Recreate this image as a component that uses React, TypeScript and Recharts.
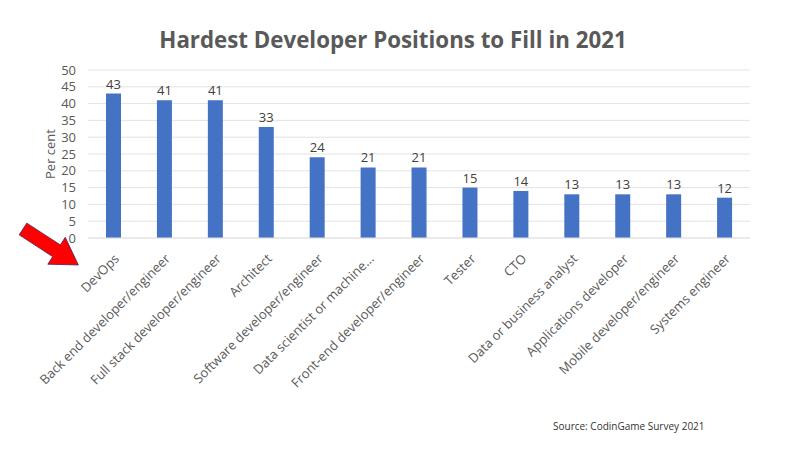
import React from "react";
import { BarChart, Bar, XAxis, YAxis, CartesianGrid, LabelList } from "recharts";

const categories = [
  "DevOps",
  "Back end developer/engineer",
  "Full stack developer/engineer",
  "Architect",
  "Software developer/engineer",
  "Data scientist or machine...",
  "Front-end developer/engineer",
  "Tester",
  "CTO",
  "Data or business analyst",
  "Applications developer",
  "Mobile developer/engineer",
  "Systems engineer",
];
const perCent = [43, 41, 41, 33, 24, 21, 21, 15, 14, 13, 13, 13, 12];
const yTicks = [0, 5, 10, 15, 20, 25, 30, 35, 40, 45, 50];

const data = categories.map((name, i) => ({ name, value: perCent[i] }));

const FONT = "'Open Sans', Lato, sans-serif";
const GRAY = "#595959";

const CatTick = (props: any) => {
  const { x, y, payload } = props;
  const tx = x + 3;
  const ty = y + 10;
  return (
    <text
      x={tx}
      y={ty}
      transform={`rotate(-45, ${tx}, ${ty})`}
      textAnchor="end"
      dominantBaseline="central"
      fontSize={13}
      fill={GRAY}
      fontFamily={FONT}
    >
      {payload.value}
    </text>
  );
};

export default function App() {
  return (
    <div style={{ position: "absolute", left: 0, top: 0, width: 800, height: 450, background: "#fff", fontFamily: FONT }}>
      <div
        style={{
          position: "absolute",
          top: 24,
          left: 0,
          width: 786,
          textAlign: "center",
          fontSize: 22.3,
          fontWeight: 700,
          color: GRAY,
          fontFamily: FONT,
        }}
      >
        Hardest Developer Positions to Fill in 2021
      </div>
      <BarChart
        width={800}
        height={450}
        data={data}
        margin={{ top: 70, right: 50, left: 0, bottom: 0 }}
        barCategoryGap="35%"
      >
        <CartesianGrid vertical={false} stroke="#E3E3E3" />
        <XAxis
          dataKey="name"
          interval={0}
          height={212}
          tickLine={false}
          axisLine={{ stroke: "#E3E3E3" }}
          tick={<CatTick />}
        />
        <YAxis
          width={88}
          domain={[0, 50]}
          ticks={yTicks}
          interval={0}
          tickLine={false}
          axisLine={false}
          tick={{ fontSize: 13, fill: GRAY, fontFamily: FONT }}
          tickMargin={6}
          label={{
            value: "Per cent",
            angle: -90,
            position: "insideLeft",
            offset: 50,
            style: { fontSize: 13, fill: GRAY, fontFamily: FONT, textAnchor: "middle" },
          }}
        />
        <Bar dataKey="value" fill="#4472C4" barSize={15} isAnimationActive={false}>
          <LabelList dataKey="value" position="top" offset={5} style={{ fontSize: 13, fill: "#404040", fontFamily: FONT }} />
        </Bar>
      </BarChart>
      <svg width={800} height={450} style={{ position: "absolute", left: 0, top: 0, pointerEvents: "none" }}>
        <polygon
          points="0,-7 40,-7 40,-16 66,0 40,16 40,7 0,7"
          transform="translate(23,229) rotate(33)"
          fill="#FF0000"
          stroke="#5A2A5A"
          strokeWidth={0.8}
        />
      </svg>
      <div
        style={{
          position: "absolute",
          left: 553,
          top: 419,
          fontSize: 10,
          color: "#333",
          fontFamily: FONT,
        }}
      >
        Source: CodinGame Survey 2021
      </div>
    </div>
  );
}
